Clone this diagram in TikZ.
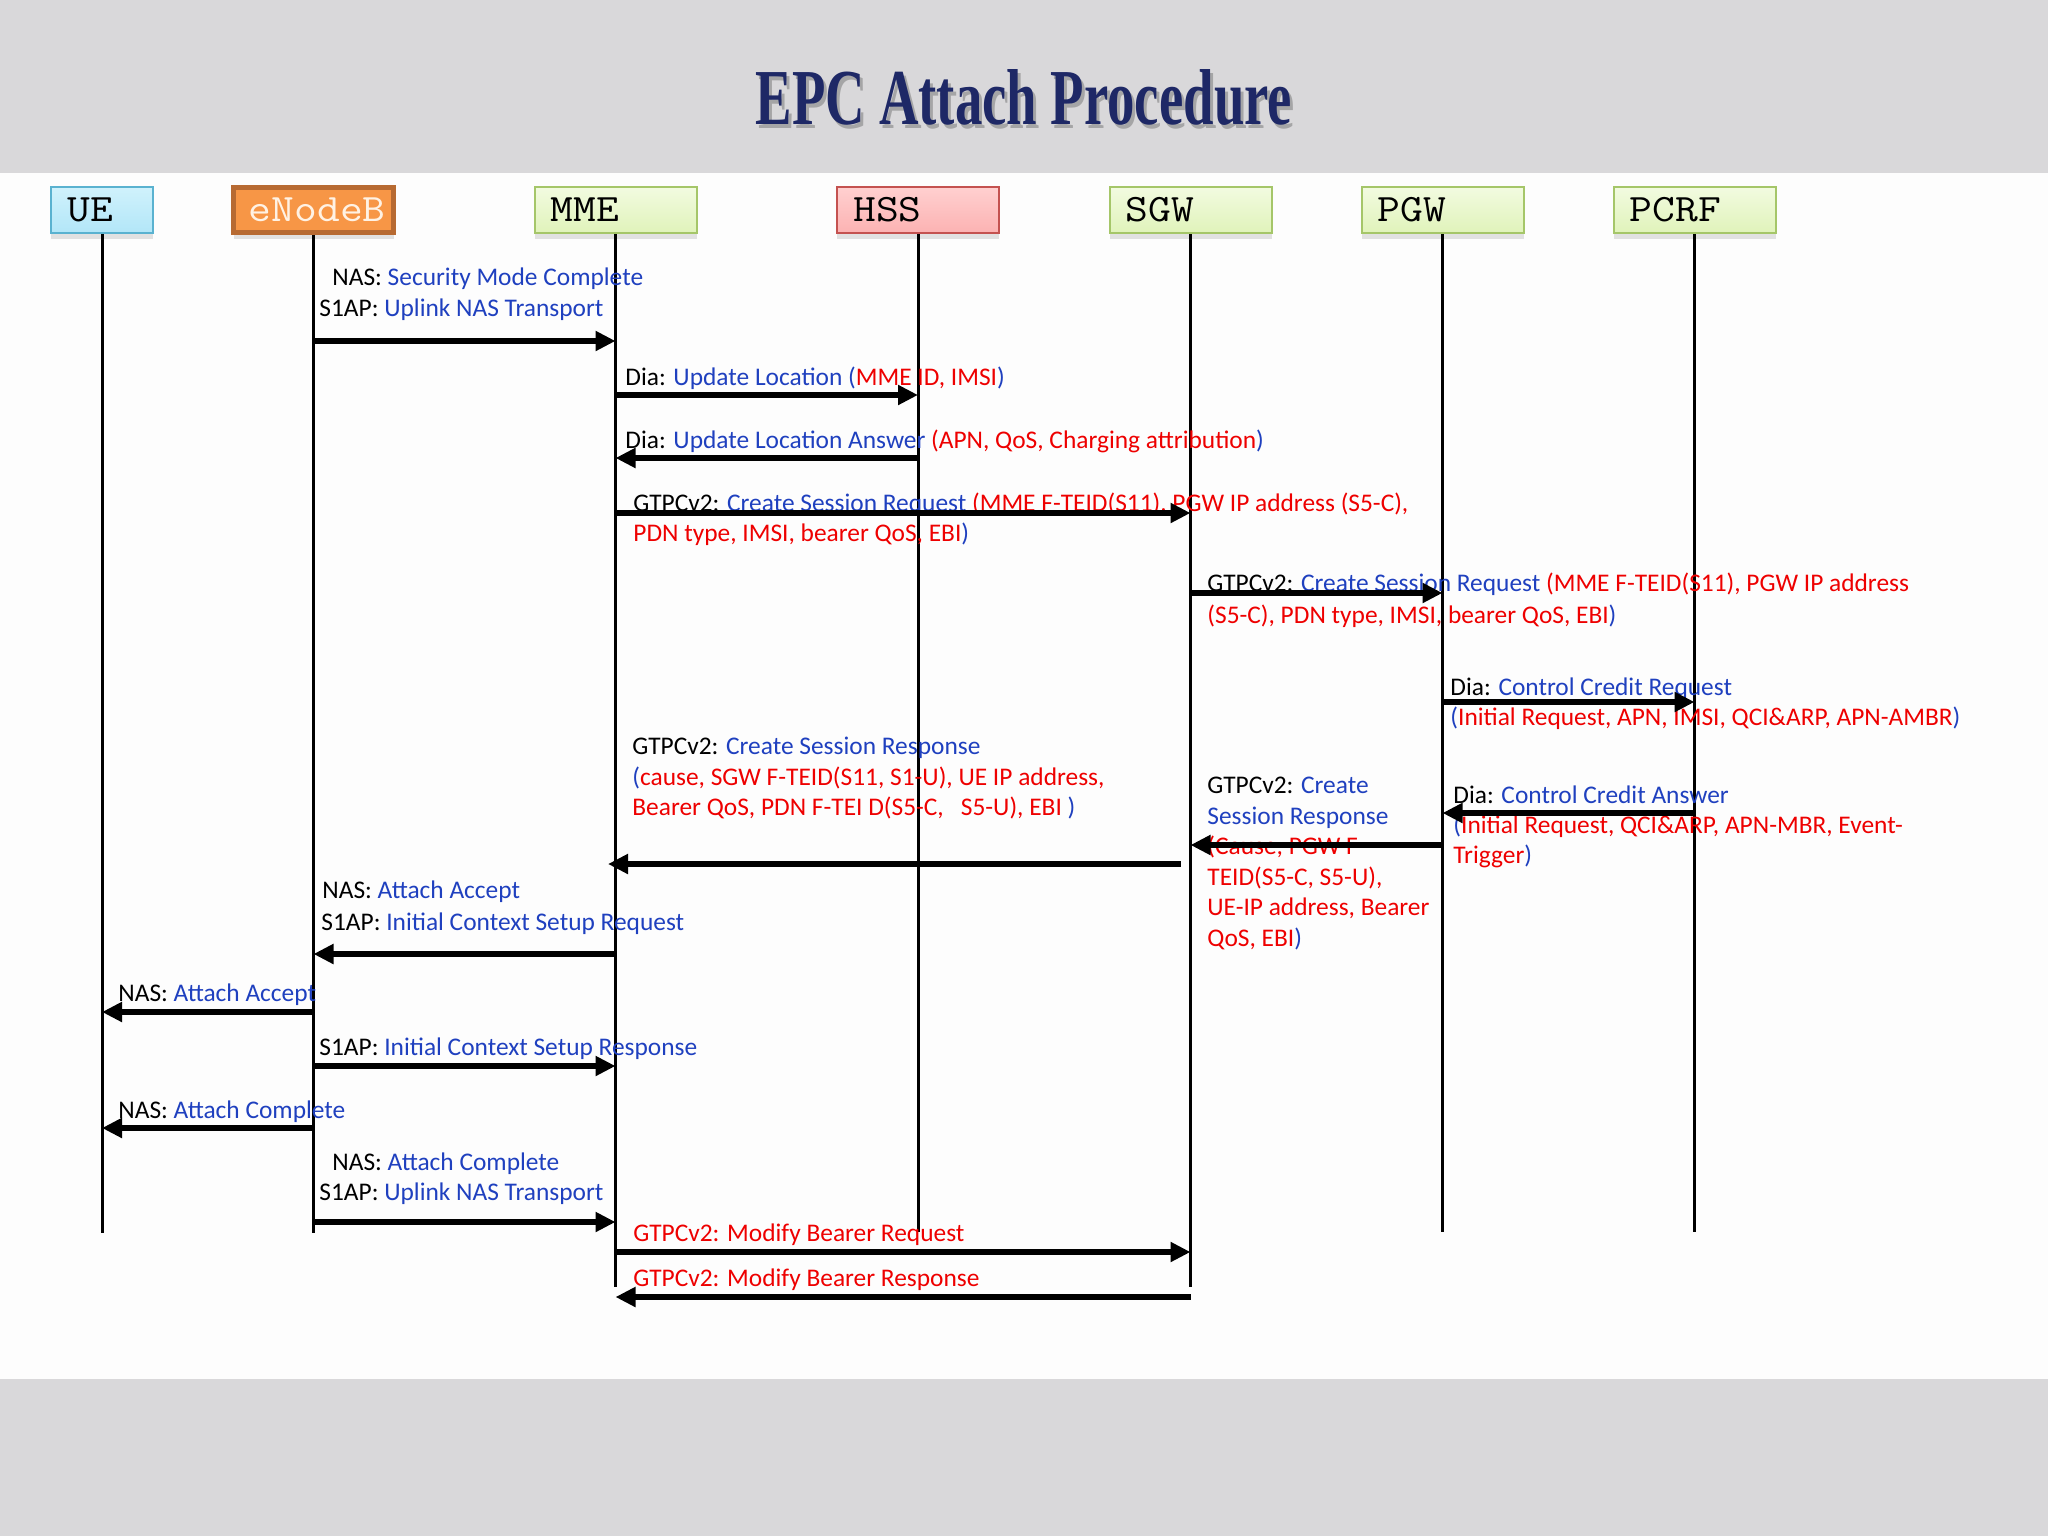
\documentclass[tikz,border=0pt]{standalone}
\usepackage{fontspec}
\setmainfont{Carlito}
\newfontfamily\titlefont{Liberation Serif}
\usetikzlibrary{arrows.meta,shadows,calc}
\definecolor{bluetxt}{RGB}{31,64,191}
\definecolor{redtxt}{RGB}{238,0,0}
\definecolor{bandgray}{RGB}{217,216,218}
\definecolor{pagewhite}{RGB}{253,253,253}
\definecolor{titleblue}{RGB}{30,40,102}
\definecolor{uetop}{RGB}{208,242,252}
\definecolor{uebot}{RGB}{178,230,248}
\definecolor{uebord}{RGB}{90,178,208}
\definecolor{enbfill}{RGB}{247,150,70}
\definecolor{enbbord}{RGB}{183,106,50}
\definecolor{enbtext}{RGB}{255,242,228}
\definecolor{hsstop}{RGB}{255,208,208}
\definecolor{hssbot}{RGB}{252,178,178}
\definecolor{hssbord}{RGB}{196,82,80}
\definecolor{grtop}{RGB}{242,251,224}
\definecolor{grbot}{RGB}{224,243,186}
\definecolor{grbord}{RGB}{165,198,105}
\newcommand\msgB[1]{\textcolor{bluetxt}{#1}}
\newcommand\msgR[1]{\textcolor{redtxt}{#1}}
\newcommand\boxlabel[1]{\scalebox{1.14}[1]{\ttfamily\fontsize{19.4}{20}\selectfont #1}}
\begin{document}
\begin{tikzpicture}[x=0.5pt,y=-0.5pt,
  lifebox/.style={draw, line width=1pt, minimum width=81pt, minimum height=23pt, inner sep=0pt,
    drop shadow={shadow xshift=0pt, shadow yshift=-3pt, opacity=0.22}},
  greenbox/.style={lifebox, draw=grbord, top color=grtop, bottom color=grbot},
  boxtext/.style={anchor=west, inner sep=0pt},
  txt/.style={anchor=base west, inner sep=0pt, font=\fontsize{12.7}{15}\selectfont},
  life/.style={line width=1.5pt},
  msg/.style={line width=3pt, -{Triangle[length=10pt,width=9.5pt]}}
]
\useasboundingbox (0,0) rectangle (2048,1536);
\fill[pagewhite] (0,0) rectangle (2048,1536);
\fill[bandgray] (0,0) rectangle (2048,173);
\fill[bandgray] (0,1379) rectangle (2048,1536);

% title
\node[anchor=base, inner sep=0pt, text=black!55, opacity=0.5] (titleshadow) at (1027,128)
  {\resizebox{268pt}{27.5pt}{\titlefont\bfseries EPC Attach Procedure}};
\node[anchor=base, inner sep=0pt, text=titleblue] (title) at (1024,125)
  {\resizebox{268pt}{27.5pt}{\titlefont\bfseries EPC Attach Procedure}};

% participant boxes
\node[lifebox, draw=uebord, top color=uetop, bottom color=uebot, minimum width=51pt] (UE) at (102,210) {};
\node[boxtext] (UEt) at ([xshift=8.5pt]UE.west) {\boxlabel{UE}};
\node[lifebox, draw=enbbord, line width=2.5pt, fill=enbfill, minimum width=80pt, minimum height=22.5pt] (ENB) at (313.5,210) {};
\node[boxtext, text=enbtext] (ENBt) at ([xshift=8.75pt]ENB.west) {\boxlabel{eNodeB}};
\node[greenbox] (MME) at (615.5,210) {};
\node[boxtext] (MMEt) at ([xshift=8.5pt]MME.west) {\boxlabel{MME}};
\node[lifebox, draw=hssbord, top color=hsstop, bottom color=hssbot] (HSS) at (918,210) {};
\node[boxtext] (HSSt) at ([xshift=8.5pt]HSS.west) {\boxlabel{HSS}};
\node[greenbox] (SGW) at (1190.5,210) {};
\node[boxtext] (SGWt) at ([xshift=8.5pt]SGW.west) {\boxlabel{SGW}};
\node[greenbox] (PGW) at (1442.5,210) {};
\node[boxtext] (PGWt) at ([xshift=8.5pt]PGW.west) {\boxlabel{PGW}};
\node[greenbox] (PCRF) at (1694.5,210) {};
\node[boxtext] (PCRFt) at ([xshift=8.5pt]PCRF.west) {\boxlabel{PCRF}};

% lifelines
\coordinate (UEend) at (102,1233);
\coordinate (ENBend) at (313.5,1233);
\coordinate (MMEend) at (615.5,1287);
\coordinate (HSSend) at (918,1232);
\coordinate (SGWend) at (1190.5,1287);
\coordinate (PGWend) at (1442.5,1232);
\coordinate (PCRFend) at (1694.5,1232);
\draw[life] (UE.south) -- (UEend);
\draw[life] (ENB.south) -- (ENBend);
\draw[life] (MME.south) -- (MMEend);
\draw[life] (HSS.south) -- (HSSend);
\draw[life] (SGW.south) -- (SGWend);
\draw[life] (PGW.south) -- (PGWend);
\draw[life] (PCRF.south) -- (PCRFend);

% 1
\node[txt] (t1a) at (332,285) {NAS: \msgB{Security Mode Complete}};
\node[txt] (t1b) at (319,316) {S1AP: \msgB{Uplink NAS Transport}};
\draw[msg] (ENB |- 0,341) -- (MME |- 0,341);
% 2
\node[txt] (t2) at (625,385) {Dia: \msgB{Update Location (}\msgR{MME ID, IMSI}\msgB{)}};
\draw[msg] (MME |- 0,395) -- (HSS |- 0,395);
% 3
\node[txt] (t3) at (625,448) {Dia: \msgB{Update Location Answer }\msgR{(APN, QoS, Charging attribution}\msgB{)}};
\draw[msg] (HSS |- 0,458) -- (MME |- 0,458);
% 4
\node[txt] (t4a) at (633,511) {GTPCv2: \msgB{Create Session Request }\msgR{(MME F-TEID(S11), PGW IP address (S5-C),}};
\node[txt] (t4b) at (633,541) {\msgR{PDN type, IMSI, bearer QoS, EBI}\msgB{)}};
\draw[msg] (MME |- 0,513) -- (SGW |- 0,513);
% 5
\node[txt] (t5a) at (1207,591) {GTPCv2: \msgB{Create Session Request }\msgR{(MME F-TEID(S11), PGW IP address}};
\node[txt] (t5b) at (1207,623) {\msgR{(S5-C), PDN type, IMSI, bearer QoS, EBI}\msgB{)}};
\draw[msg] (SGW |- 0,593) -- (PGW |- 0,593);
% 6
\node[txt] (t6a) at (1450,695) {Dia: \msgB{Control Credit Request}};
\node[txt] (t6b) at (1450,725) {\msgB{(}\msgR{Initial Request, APN, IMSI, QCI\&ARP, APN-AMBR}\msgB{)}};
\draw[msg] (PGW |- 0,702) -- (PCRF |- 0,702);
% 7
\node[txt] (t7a) at (1453,803) {Dia: \msgB{Control Credit Answer}};
\node[txt] (t7b) at (1453,833) {\msgB{(}\msgR{Initial Request, QCI\&ARP, APN-MBR, Event-}};
\node[txt] (t7c) at (1453,863) {\msgR{Trigger}\msgB{)}};
\draw[msg] (PCRF |- 0,813) -- (PGW |- 0,813);
% 8
\node[txt] (t8a) at (1207,793) {GTPCv2: \msgB{Create}};
\node[txt] (t8b) at (1207,824) {\msgB{Session Response}};
\node[txt] (t8c) at (1207,854) {\msgR{(Cause, PGW F-}};
\node[txt] (t8d) at (1207,885) {\msgR{TEID(S5-C, S5-U),}};
\node[txt] (t8e) at (1207,915) {\msgR{UE-IP address, Bearer}};
\node[txt] (t8f) at (1207,946) {\msgR{QoS, EBI}\msgB{)}};
\draw[msg] (PGW |- 0,845) -- (SGW |- 0,845);
% 9
\node[txt] (t9a) at (632,754) {GTPCv2: \msgB{Create Session Response}};
\node[txt] (t9b) at (632,785) {\msgB{(}\msgR{cause, SGW F-TEID(S11, S1-U), UE IP address,}};
\node[txt] (t9c) at (632,815) {\msgR{Bearer QoS, PDN F-TEI D(S5-C,\ \ \ S5-U), EBI }\msgB{)}};
\draw[msg] ($(SGW |- 0,864)+(-10,0)$) -- ($(MME |- 0,864)+(-7.5,0)$);
% 10
\node[txt] (t10a) at (322,898) {NAS: \msgB{Attach Accept}};
\node[txt] (t10b) at (321,930) {S1AP: \msgB{Initial Context Setup Request}};
\draw[msg] (MME |- 0,954) -- (ENB |- 0,954);
% 11
\node[txt] (t11) at (118,1001) {NAS: \msgB{Attach Accept}};
\draw[msg] (ENB |- 0,1012) -- (UE |- 0,1012);
% 12
\node[txt] (t12) at (319,1055) {S1AP: \msgB{Initial Context Setup Response}};
\draw[msg] (ENB |- 0,1066) -- (MME |- 0,1066);
% 13
\node[txt] (t13) at (118,1118) {NAS: \msgB{Attach Complete}};
\draw[msg] (ENB |- 0,1128) -- (UE |- 0,1128);
% 14
\node[txt] (t14a) at (332,1170) {NAS: \msgB{Attach Complete}};
\node[txt] (t14b) at (319,1200) {S1AP: \msgB{Uplink NAS Transport}};
\draw[msg] (ENB |- 0,1222) -- (MME |- 0,1222);
% 15
\node[txt] (t15) at (633,1241) {\msgR{GTPCv2: Modify Bearer Request}};
\draw[msg] (MME |- 0,1252) -- (SGW |- 0,1252);
% 16
\node[txt] (t16) at (633,1286) {\msgR{GTPCv2: Modify Bearer Response}};
\draw[msg] (SGW |- 0,1297) -- (MME |- 0,1297);
\end{tikzpicture}
\end{document}
